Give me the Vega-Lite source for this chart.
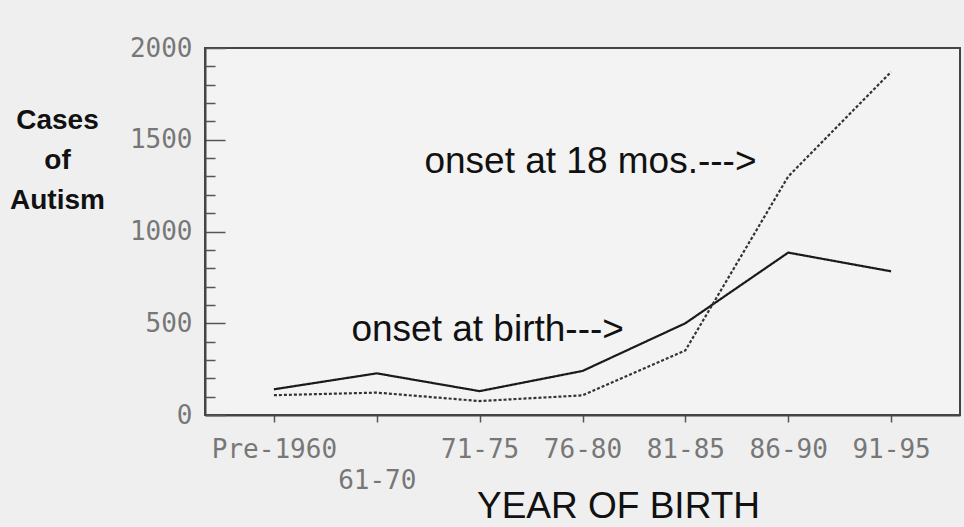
{
  "$schema": "https://vega.github.io/schema/vega-lite/v6.json",
  "autosize": {"type": "none"},
  "width": 755,
  "height": 367,
  "padding": {"left": 205, "top": 48, "right": 4, "bottom": 112},
  "background": "#efefef",
  "view": {"stroke": "#444444", "strokeWidth": 2, "fill": "#f3f3f3"},
  "datasets": {
    "cases": [
      {"period": "Pre-1960", "series": "onset at birth", "cases": 140},
      {"period": "61-70", "series": "onset at birth", "cases": 227},
      {"period": "71-75", "series": "onset at birth", "cases": 130},
      {"period": "76-80", "series": "onset at birth", "cases": 240},
      {"period": "81-85", "series": "onset at birth", "cases": 500},
      {"period": "86-90", "series": "onset at birth", "cases": 885},
      {"period": "91-95", "series": "onset at birth", "cases": 783},
      {"period": "Pre-1960", "series": "onset at 18 mos.", "cases": 108},
      {"period": "61-70", "series": "onset at 18 mos.", "cases": 122},
      {"period": "71-75", "series": "onset at 18 mos.", "cases": 76},
      {"period": "76-80", "series": "onset at 18 mos.", "cases": 107},
      {"period": "81-85", "series": "onset at 18 mos.", "cases": 352},
      {"period": "86-90", "series": "onset at 18 mos.", "cases": 1300},
      {"period": "91-95", "series": "onset at 18 mos.", "cases": 1870}
    ],
    "notes": [
      {"period": "76-80", "cases": 1380, "label": "onset at 18 mos.--->"},
      {"period": "71-75", "cases": 463, "label": "onset at birth--->"}
    ]
  },
  "resolve": {"axis": {"y": "independent"}},
  "layer": [
    {
      "data": {"name": "cases"},
      "mark": {"type": "line", "strokeWidth": 2.2},
      "encoding": {
        "x": {
          "field": "period",
          "type": "ordinal",
          "sort": ["Pre-1960", "61-70", "71-75", "76-80", "81-85", "86-90", "91-95"],
          "scale": {"type": "point", "padding": 0.67},
          "axis": {
            "title": "YEAR OF BIRTH",
            "titleFont": "Liberation Sans",
            "titleFontSize": 37,
            "titleFontWeight": "normal",
            "titleColor": "#111111",
            "titleBaseline": "alphabetic",
            "titleAnchor": "start",
            "titleAlign": "center",
            "titleX": 413,
            "titleY": 102,
            "labelAngle": 0,
            "labelFont": "DejaVu Sans Mono",
            "labelFontSize": 26,
            "labelColor": "#777777",
            "labelBaseline": "top",
            "labelLineHeight": 31,
            "labelPadding": 14,
            "labelExpr": "datum.value == '61-70' ? ['', '61-70'] : datum.label",
            "labelOverlap": false,
            "tickSize": 7,
            "tickColor": "#555555",
            "tickWidth": 1.5,
            "domainColor": "#444444",
            "domainWidth": 2
          }
        },
        "y": {
          "field": "cases",
          "type": "quantitative",
          "scale": {"domain": [0, 2000], "nice": false},
          "axis": {
            "orient": "left",
            "title": ["Cases", "of", "Autism"],
            "titleAngle": 0,
            "titleFont": "Liberation Sans",
            "titleFontSize": 28,
            "titleFontWeight": "bold",
            "titleColor": "#111111",
            "titleAlign": "center",
            "titleBaseline": "alphabetic",
            "titleLineHeight": 40,
            "titleX": -148,
            "titleY": 80,
            "values": [0, 500, 1000, 1500, 2000],
            "format": "d",
            "labelFont": "DejaVu Sans Mono",
            "labelFontSize": 26,
            "labelColor": "#777777",
            "labelPadding": 33,
            "labelOverlap": false,
            "tickSize": -20,
            "tickColor": "#555555",
            "tickWidth": 1.5,
            "domainColor": "#444444",
            "domainWidth": 2,
            "grid": false
          }
        },
        "color": {
          "field": "series",
          "type": "nominal",
          "scale": {"domain": ["onset at birth", "onset at 18 mos."], "range": ["#1a1a1a", "#333333"]},
          "legend": null
        },
        "strokeDash": {
          "field": "series",
          "type": "nominal",
          "scale": {"domain": ["onset at birth", "onset at 18 mos."], "range": [[1, 0], [3, 2]]},
          "legend": null
        }
      }
    },
    {
      "data": {"name": "notes"},
      "mark": {"type": "text", "font": "Liberation Sans", "fontSize": 37, "color": "#111111", "align": "center", "baseline": "middle", "dx": 8},
      "encoding": {
        "x": {"field": "period", "type": "ordinal", "sort": ["Pre-1960", "61-70", "71-75", "76-80", "81-85", "86-90", "91-95"]},
        "y": {
          "field": "cases",
          "type": "quantitative",
          "axis": {
            "orient": "left",
            "title": null,
            "values": [100, 200, 300, 400, 600, 700, 800, 900, 1100, 1200, 1300, 1400, 1600, 1700, 1800, 1900],
            "labels": false,
            "domain": false,
            "grid": false,
            "tickSize": -10,
            "tickColor": "#555555",
            "tickWidth": 1.5,
            "offset": 0
          }
        },
        "text": {"field": "label"}
      }
    }
  ]
}
